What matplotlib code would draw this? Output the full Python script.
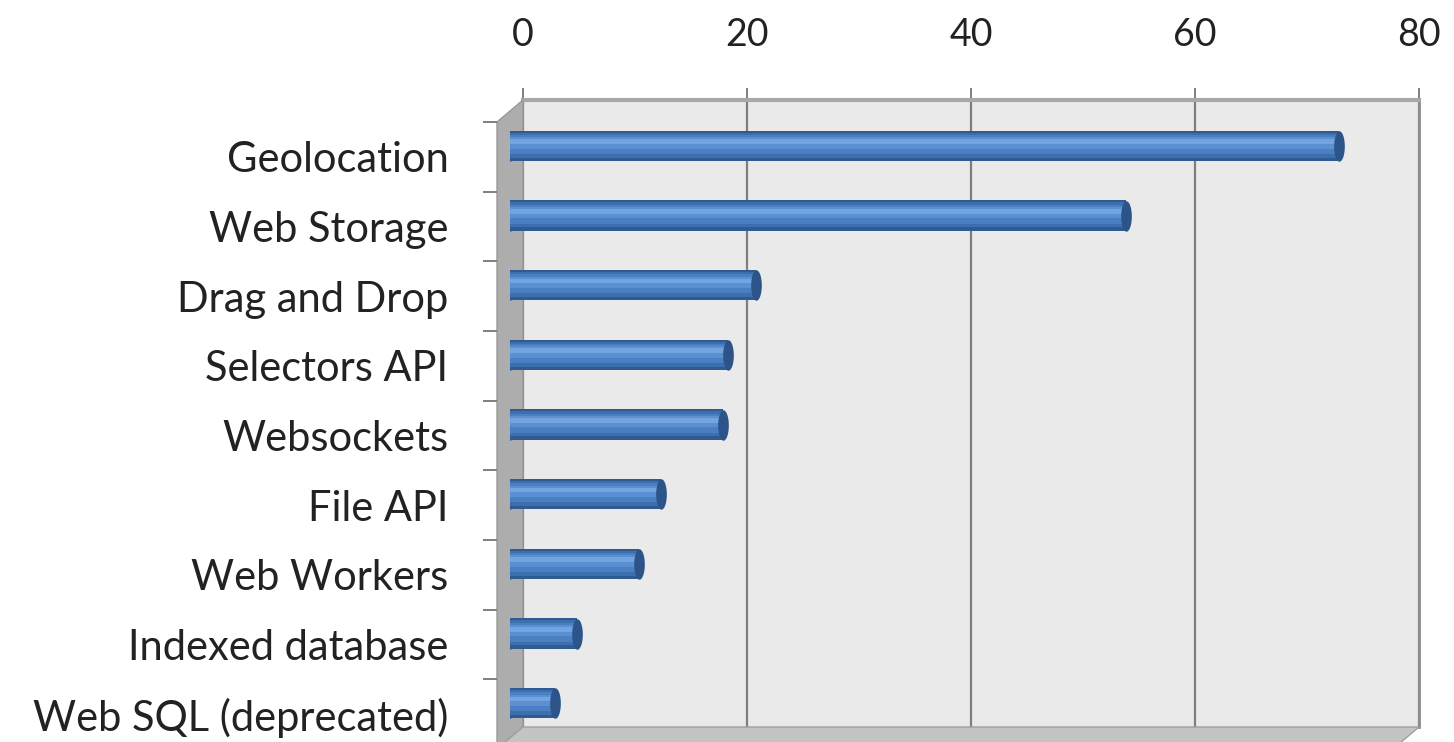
import matplotlib.pyplot as plt
from matplotlib.patches import Polygon
from matplotlib.path import Path
import numpy as np

# survey results, top to bottom
features = ['Geolocation', 'Web Storage', 'Drag and Drop', 'Selectors API', 'Websockets',
            'File API', 'Web Workers', 'Indexed database', 'Web SQL (deprecated)']
counts = [74, 55, 22, 19.5, 19, 13.5, 11.5, 6, 4]
x_ticks = [0, 20, 40, 60, 80]

plt.rcParams['font.family'] = ['Lato', 'DejaVu Sans']
W, H = 1454, 742
fig = plt.figure(figsize=(W / 100, H / 100), dpi=100)

# pixel geometry of the back wall and the 3D depth offset
bx0, bx1, by0, by1 = 523, 1419, 100, 727
dx, dy = 26, 22
n = len(features)
y = np.arange(n)


def place(shift):
    return [(bx0 - shift * dx) / W, (H - by1 - shift * dy) / H,
            (bx1 - bx0) / W, (by1 - by0) / H]


# back wall with gridlines and top axis
ax_back = fig.add_axes(place(0))
ax_back.set_zorder(0)
ax_back.set_facecolor('#eaeaea')
ax_back.set_xlim(0, 80)
ax_back.set_ylim(n - 0.5, -0.5)
ax_back.set_xticks(x_ticks)
ax_back.xaxis.tick_top()
ax_back.set_yticks([])
ax_back.grid(axis='x', color='#7f7f7f', linewidth=1.6)
ax_back.tick_params(axis='x', length=9, width=1.4, color='#7f7f7f', pad=25,
                    labelsize=27, labelcolor='#222222')
for s in ['left', 'bottom']:
    ax_back.spines[s].set_visible(False)
ax_back.spines['top'].set_color('#a8a8a8')
ax_back.spines['top'].set_linewidth(3)
ax_back.spines['right'].set_color('#8c8c8c')
ax_back.spines['right'].set_linewidth(2)

# left wall and floor
fig.patches.append(Polygon([(bx0 / W, 1 - by0 / H), (bx0 / W, 1 - by1 / H),
                            ((bx0 - dx) / W, 1 - (by1 + dy) / H),
                            ((bx0 - dx) / W, 1 - (by0 + dy) / H)],
                           closed=True, transform=fig.transFigure,
                           facecolor='#adadad', edgecolor='#9a9a9a', zorder=1))
fig.patches.append(Polygon([(bx0 / W, 1 - by1 / H), (bx1 / W, 1 - by1 / H),
                            ((bx1 - dx) / W, 1 - (by1 + dy) / H),
                            ((bx0 - dx) / W, 1 - (by1 + dy) / H)],
                           closed=True, transform=fig.transFigure,
                           facecolor='#c4c4c4', edgecolor='#a0a0a0', zorder=1))

# bars, halfway into the depth, shaded like cylinders
ax_bar = fig.add_axes(place(0.5))
ax_bar.set_zorder(2)
ax_bar.set_facecolor('none')
ax_bar.set_xlim(0, 80)
ax_bar.set_ylim(n - 0.5, -0.5)
ax_bar.axis('off')

t = np.linspace(0, 2 * np.pi, 60)
cap = Path(np.column_stack([0.35 * np.cos(t), np.sin(t)]))
ax_bar.scatter(np.zeros(n), y, marker=cap, s=480, color='#35639c', linewidths=0, zorder=1)
ax_bar.barh(y, counts, height=0.44, color='#2f5a92', linewidth=0, zorder=2)
ax_bar.barh(y - 0.01, counts, height=0.36, color='#3d6fae', linewidth=0, zorder=2)
ax_bar.barh(y - 0.02, counts, height=0.27, color='#4a80c2', linewidth=0, zorder=2)
ax_bar.barh(y - 0.04, counts, height=0.16, color='#5a90d2', linewidth=0, zorder=2)
ax_bar.barh(y - 0.06, counts, height=0.07, color='#73a4e0', linewidth=0, zorder=2)
ax_bar.scatter(counts, y, marker=cap, s=480, color='#2c5488', linewidths=0, zorder=3)

# front face with the category labels
ax_front = fig.add_axes(place(1))
ax_front.set_zorder(3)
ax_front.set_facecolor('none')
ax_front.set_xlim(0, 80)
ax_front.set_ylim(n - 0.5, -0.5)
ax_front.set_xticks([])
for s in ax_front.spines.values():
    s.set_visible(False)
ax_front.set_yticks(y)
ax_front.set_yticklabels(features)
ax_front.set_yticks(np.arange(n) - 0.5, minor=True)
ax_front.tick_params(axis='y', which='major', length=0, pad=35, labelsize=30,
                     labelcolor='#222222')
ax_front.tick_params(axis='y', which='minor', length=10, width=1.4, color='#7f7f7f')

fig.savefig('out.png', dpi=100)
